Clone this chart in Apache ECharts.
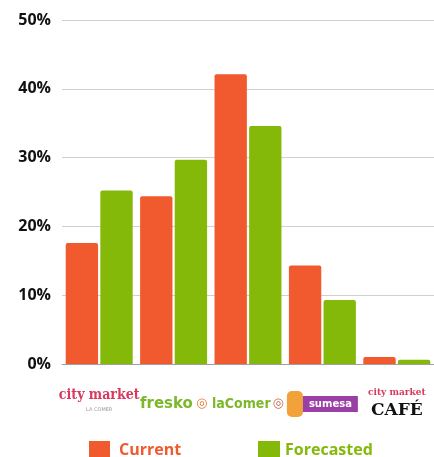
<!DOCTYPE html>
<html>
<head>
<meta charset="utf-8">
<script src="https://cdn.jsdelivr.net/npm/echarts@6/dist/echarts.min.js"></script>
<style>html,body{margin:0;padding:0;background:#fff}#c{width:434px;height:457px}</style>
</head>
<body>
<div id="c"></div>
<script>
const categories = ['City Market', 'Fresko', 'La Comer', 'Sumesa', 'City Market Café'];
const currentValues = [17.6, 24.4, 42.1, 14.3, 1.0];
const forecastValues = [25.2, 29.7, 34.6, 9.3, 0.6];
const yTicks = { min: 0, max: 50, interval: 10 };
const seriesNames = ['Current', 'Forecasted'];
const colors = ['#F15A2E', '#84B90A'];

const logoText = [
  '{cm|city market}\n{sub|LA COMER}',
  '{fr|fresko}{fro|◎}',
  '{lc|laComer}{lco|◎}',
  '{so| }{sp|sumesa}',
  '{cs|city market}\n{cafe|CAFÉ}'
];

const chart = echarts.init(document.getElementById('c'));
chart.setOption({
  animation: false,
  grid: { left: 62, top: 20, width: 377.5, bottom: 93, containLabel: false },
  legend: [
    {
      left: 84, top: 436, icon: 'rect', itemWidth: 21, itemHeight: 18,
      data: [{ name: seriesNames[0], textStyle: { color: colors[0] } }],
      textStyle: { fontFamily: 'Open Sans', fontWeight: 'bold', fontSize: 16, padding: [0, 0, 0, 4] }
    },
    {
      left: 253, top: 436, icon: 'rect', itemWidth: 22, itemHeight: 18,
      data: [{ name: seriesNames[1], textStyle: { color: colors[1] } }],
      textStyle: { fontFamily: 'Open Sans', fontWeight: 'bold', fontSize: 16, padding: [0, 0, 0, 0] }
    }
  ],
  xAxis: {
    type: 'category',
    data: categories,
    axisLine: { lineStyle: { color: '#a0a0a0', width: 1 } },
    axisTick: { show: false },
    axisLabel: {
      interval: 0,
      margin: 20,
      formatter: function (v, i) { return logoText[i]; },
      rich: {
        cm: { fontFamily: 'DejaVu Serif Condensed', fontWeight: 'bold', fontSize: 14, color: '#d63a5e', lineHeight: 22 },
        sub: { fontFamily: 'DejaVu Sans', fontSize: 5, color: '#999', lineHeight: 8 },
        fr: { fontFamily: 'DejaVu Sans', fontWeight: 'bold', fontSize: 15, color: '#7cb82a', lineHeight: 40 },
        fro: { fontFamily: 'DejaVu Sans', fontWeight: 'bold', fontSize: 13, color: '#e8772e', padding: [0, 0, 0, 3], lineHeight: 40 },
        lc: { fontFamily: 'DejaVu Sans Condensed', fontWeight: 'bold', fontSize: 14, color: '#7cb82a', lineHeight: 40 },
        lco: { fontFamily: 'DejaVu Sans', fontWeight: 'bold', fontSize: 13, color: '#c2664c', padding: [0, 0, 0, 2], lineHeight: 40 },
        so: { backgroundColor: '#f2a23a', width: 16, height: 26, borderRadius: 5, lineHeight: 40 },
        sp: { fontFamily: 'DejaVu Sans', fontWeight: 'bold', fontSize: 10, color: '#fff', backgroundColor: '#9a3fa5', padding: [3, 6, 3, 6], lineHeight: 40 },
        cs: { fontFamily: 'DejaVu Serif Condensed', fontWeight: 'bold', fontSize: 10, color: '#d63a5e', lineHeight: 16 },
        cafe: { fontFamily: 'DejaVu Serif', fontWeight: 'bold', fontSize: 17, color: '#111', lineHeight: 22 }
      }
    }
  },
  yAxis: {
    type: 'value',
    min: yTicks.min, max: yTicks.max, interval: yTicks.interval,
    axisLine: { show: false },
    axisTick: { show: false },
    splitLine: { lineStyle: { color: '#d0d0d0', width: 1 } },
    axisLabel: {
      formatter: '{value}%',
      margin: 11,
      fontFamily: 'Open Sans', fontWeight: 'bold', fontSize: 16, color: '#111'
    }
  },
  series: [
    {
      name: seriesNames[0], type: 'bar', data: currentValues,
      barGap: '7%', barCategoryGap: '10%',
      itemStyle: { color: colors[0], borderRadius: [2, 2, 0, 0] }
    },
    {
      name: seriesNames[1], type: 'bar', data: forecastValues,
      barGap: '7%', barCategoryGap: '10%',
      itemStyle: { color: colors[1], borderRadius: [2, 2, 0, 0] }
    }
  ]
});
</script>
</body>
</html>
